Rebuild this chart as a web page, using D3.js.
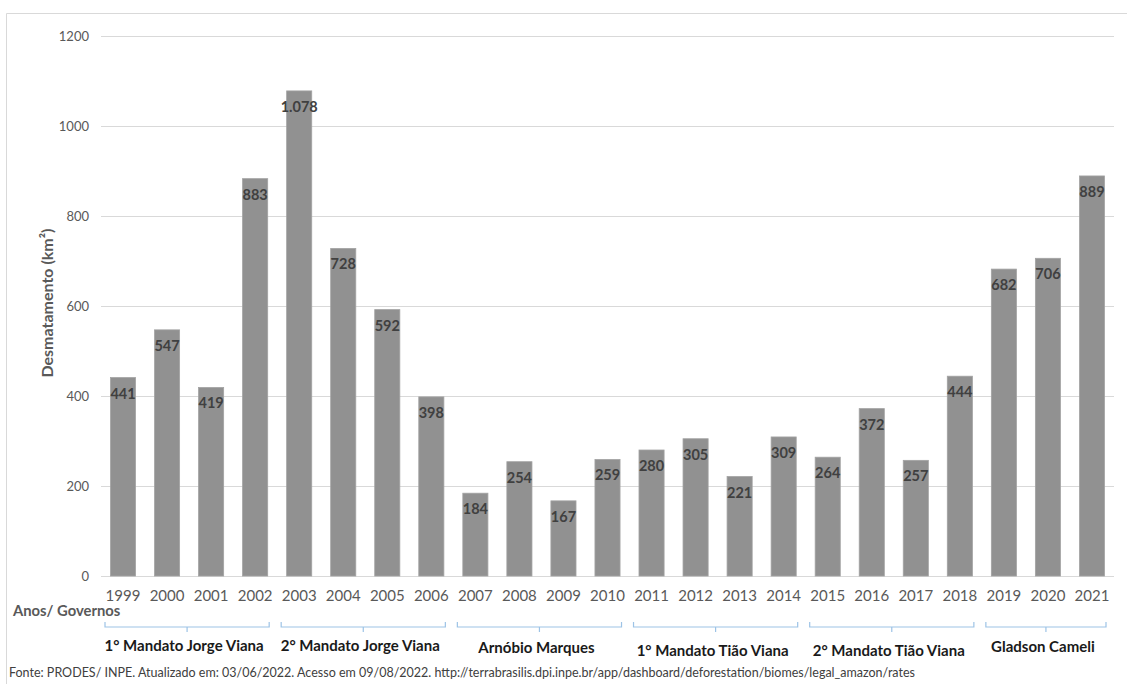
<!DOCTYPE html>
<html><head><meta charset="utf-8">
<script src="https://cdn.jsdelivr.net/npm/d3@7"></script>
<style>body{margin:0;background:#fff}svg{display:block;font-family:Lato,"Open Sans",sans-serif}</style>
</head><body>
<svg id="c" width="1127" height="684"></svg>
<script>
const years = ["1999","2000","2001","2002","2003","2004","2005","2006","2007","2008","2009","2010","2011","2012","2013","2014","2015","2016","2017","2018","2019","2020","2021"];
const values = [441,547,419,883,1078,728,592,398,184,254,167,259,280,305,221,309,264,372,257,444,682,706,889];
const yTicks = [0,200,400,600,800,1000,1200];
const governments = ["1° Mandato Jorge Viana","2° Mandato Jorge Viana","Arnóbio Marques","1° Mandato Tião Viana","2° Mandato Tião Viana","Gladson Cameli"];
const govStart = ["1999","2003","2007","2011","2015","2019"];
const govEnd = ["2002","2006","2010","2014","2018","2021"];
const yTitle = "Desmatamento (km²)";
const xTitle = "Anos/ Governos";
const source = "Fonte: PRODES/ INPE. Atualizado em: 03/06/2022. Acesso em 09/08/2022. http://terrabrasilis.dpi.inpe.br/app/dashboard/deforestation/biomes/legal_amazon/rates";

const svg = d3.select("#c");
const fmt = v => d3.format(",")(v).replace(/,/g,".");

// outer frame
svg.append("path").attr("d","M6.5,684 V13.5 H1127").attr("fill","none").attr("stroke","#d9d9d9");

const x = d3.scaleBand().domain(years).range([101,1114]).paddingInner(0.43).paddingOuter(0.215);
const y = d3.scaleLinear().domain([0,1200]).range([576,36]);

// grid
svg.append("g").selectAll("line").data(yTicks).join("line")
  .attr("x1",101).attr("x2",1114).attr("y1",d=>Math.round(y(d))+0.5).attr("y2",d=>Math.round(y(d))+0.5)
  .attr("stroke","#d9d9d9").attr("stroke-width",1);

// y axis labels
const ya = svg.append("g").attr("transform","translate(89,0)").call(d3.axisLeft(y).tickValues(yTicks).tickFormat(d3.format("d")).tickSize(0).tickPadding(0));
ya.select(".domain").remove();
ya.selectAll("text").attr("font-family","Lato,sans-serif").attr("font-size",13).attr("fill","#595959");

// bars
svg.append("g").selectAll("rect").data(values).join("rect")
  .attr("x",(d,i)=>x(years[i])).attr("width",x.bandwidth())
  .attr("y",d=>y(d)).attr("height",d=>y(0)-y(d))
  .attr("fill","#919191").attr("stroke","#a3a3a3").attr("stroke-width",0.8);

// value labels
svg.append("g").selectAll("text").data(values).join("text")
  .attr("x",(d,i)=>x(years[i])+x.bandwidth()/2).attr("y",d=>y(d)+21)
  .attr("text-anchor","middle").attr("font-size",14.5).attr("font-weight","bold").attr("fill","#404040")
  .text(d=>fmt(d));

// x axis labels
const xa = svg.append("g").attr("transform","translate(0,576)").call(d3.axisBottom(x).tickSize(0).tickPadding(0));
xa.select(".domain").remove();
xa.selectAll("text").attr("dy",null).attr("y",25).attr("font-family","Lato,sans-serif").attr("font-size",15).attr("fill","#595959");

// y title
svg.append("text").attr("transform","translate(53,303) rotate(-90)").attr("text-anchor","middle")
  .attr("font-size",16).attr("font-weight","bold").attr("fill","#595959").text(yTitle);

// x title
svg.append("text").attr("x",13).attr("y",616).attr("font-size",14.8).attr("font-weight","bold").attr("fill","#595959").text(xTitle);

// braces and government labels
const step = x.step();
const gg = svg.append("g");
governments.forEach((g,i)=>{
  const x0 = x(govStart[i]) - x.paddingOuter()*step + 4;
  const x1 = x(govEnd[i]) + x.bandwidth() + x.paddingOuter()*step - 8;
  const mid = (x0+x1)/2;
  gg.append("path").attr("d",`M${x0},622 V627 H${x1} V622 M${mid},627 V632`)
    .attr("fill","none").attr("stroke","#9dc3e6").attr("stroke-width",1.2);
  gg.append("text").attr("x",mid-3).attr("y",[651,651,653,656,656,652][i]).attr("text-anchor","middle")
    .attr("font-size",15).attr("font-weight","bold").attr("fill","#1a1a1a").text(g);
});

// source
svg.append("text").attr("x",9).attr("y",677).attr("font-size",12.5).attr("fill","#404040").text(source);
</script>
</body></html>
